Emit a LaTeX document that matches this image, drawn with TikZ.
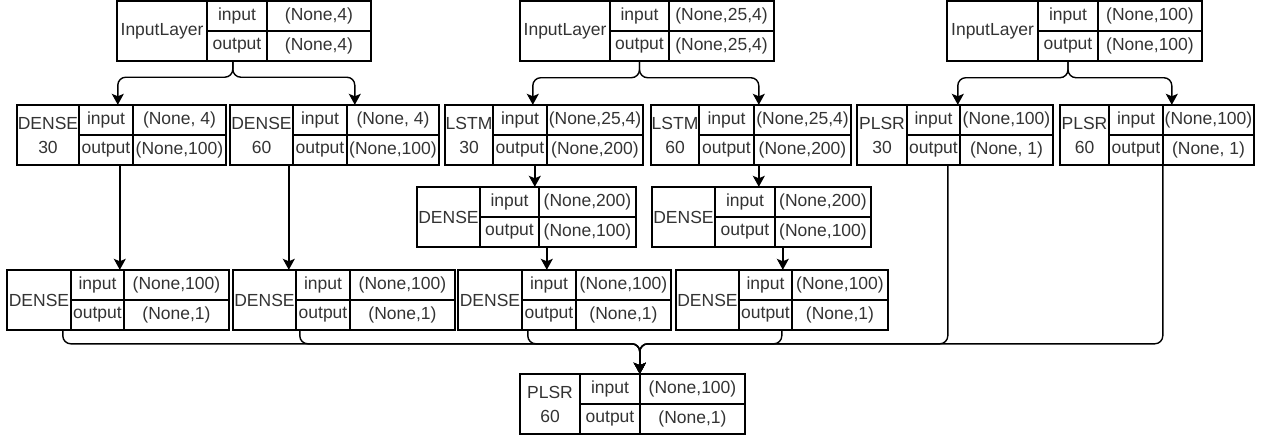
\documentclass[tikz,border=0pt]{standalone}
\usepackage{fontspec}
\setmainfont{Liberation Sans}
\usetikzlibrary{calc,arrows.meta}
\tikzset{
  cell/.style={draw=black, line width=1.4pt, inner sep=0pt, align=center,
    font=\fontsize{17.5}{24}\selectfont, text=black!80},
  arr/.style={draw=black, line width=1.4pt, -{Stealth[length=11pt,width=12pt,inset=2.5pt]}},
  link/.style={arr, rounded corners=8pt}
}
% #1 name, #2 x0, #3 c1, #4 c2, #5 x1, #6 y0, #7 label, #8 input value, #9 output value
\newcommand{\mktable}[9]{%
  \node[cell, minimum width={(#3-#2)*1pt}, minimum height=60pt] (#1-n) at ({(#2+#3)/2},{#6+30}) {#7};
  \node[cell, minimum width={(#4-#3)*1pt}, minimum height=30pt] (#1-il) at ({(#3+#4)/2},{#6+15}) {input};
  \node[cell, minimum width={(#5-#4)*1pt}, minimum height=30pt] (#1-iv) at ({(#4+#5)/2},{#6+15}) {#8};
  \node[cell, minimum width={(#4-#3)*1pt}, minimum height=30pt] (#1-ol) at ({(#3+#4)/2},{#6+45}) {output};
  \node[cell, minimum width={(#5-#4)*1pt}, minimum height=30pt] (#1-ov) at ({(#4+#5)/2},{#6+45}) {#9};
  \node[inner sep=0pt, minimum width={(#5-#2)*1pt}, minimum height=60pt] (#1) at ({(#2+#5)/2},{#6+30}) {};
}
\begin{document}
\begin{tikzpicture}[x=1pt,y=-1pt]
\useasboundingbox (0,0) rectangle (1266,437);
% top row
\mktable{A}{117}{207}{267}{371}{1}{InputLayer}{(None,4)}{(None,4)}
\mktable{B}{520}{610}{669}{774}{1}{InputLayer}{(None,25,4)}{(None,25,4)}
\mktable{C}{947}{1038}{1098}{1202}{1}{InputLayer}{(None,100)}{(None,100)}
% second row
\mktable{D30}{17}{79}{133}{226}{105}{DENSE\\30}{(None, 4)}{(None,100)}
\mktable{D60}{230}{293}{347}{439}{105}{DENSE\\60}{(None, 4)}{(None,100)}
\mktable{L30}{445}{493}{547}{643}{105}{LSTM\\30}{(None,25,4)}{(None,200)}
\mktable{L60}{651}{699}{754}{851}{105}{LSTM\\60}{(None,25,4)}{(None,200)}
\mktable{P30}{857}{907}{960}{1053}{105}{PLSR\\30}{(None,100)}{(None, 1)}
\mktable{P60}{1060}{1109}{1163}{1254}{105}{PLSR\\60}{(None,100)}{(None, 1)}
% third row
\mktable{M1}{417}{480}{539}{636}{187}{DENSE}{(None,200)}{(None,100)}
\mktable{M2}{652}{715}{775}{871}{187}{DENSE}{(None,200)}{(None,100)}
% fourth row
\mktable{T1}{7}{71}{124}{229}{270}{DENSE}{(None,100)}{(None,1)}
\mktable{T2}{233}{296}{350}{455}{270}{DENSE}{(None,100)}{(None,1)}
\mktable{T3}{458}{522}{576}{671}{270}{DENSE}{(None,100)}{(None,1)}
\mktable{T4}{676}{739}{792}{888}{270}{DENSE}{(None,100)}{(None,1)}
% final
\mktable{F}{520}{580}{640}{745}{374}{PLSR\\60}{(None,100)}{(None,1)}

% braces from the input layers
\draw[link] ($(A.south west)+(116,0)$) -- ++(0,16) -| ($(D30.north west)+(101,0)$);
\draw[link] ($(A.south west)+(116,0)$) -- ++(0,16) -| ($(D60.north west)+(125,0)$);
\draw[link] (B-ol.south) -- ++(0,16) -| ($(L30.north west)+(88,0)$);
\draw[link] (B-ol.south) -- ++(0,16) -| ($(L60.north west)+(108,0)$);
\draw[link] (C-ol.south) -- ++(0,16) -| ($(P30.north west)+(101,0)$);
\draw[link] (C-ol.south) -- ++(0,16) -| ($(P60.north west)+(112,0)$);

% straight links
\draw[arr] ($(D30.south west)+(103,0)$) coordinate (s1) -- (s1 |- T1.north);
\draw[arr] ($(D60.south west)+(59,0)$) coordinate (s2) -- (s2 |- T2.north);
\draw[arr] ($(L30.south west)+(90,0)$) coordinate (s3) -- (s3 |- M1.north);
\draw[arr] ($(L60.south west)+(108,0)$) coordinate (s4) -- (s4 |- M2.north);
\draw[arr] ($(M1.south west)+(130,0)$) coordinate (s5) -- (s5 |- T3.north);
\draw[arr] ($(M2.south west)+(131,0)$) coordinate (s6) -- (s6 |- T4.north);

% merge into the final PLSR
\coordinate (merge) at ($(F.north west)+(120,-30)$);
\coordinate (fin) at ($(F.north west)+(120,0)$);
\draw[link] ($(T1.south west)+(56,0)$) |- (merge) -- (fin);
\draw[link] ($(T2.south west)+(67,0)$) |- (merge) -- (fin);
\draw[link] ($(T3.south west)+(70,0)$) |- (merge) -- (fin);
\draw[link] ($(T4.south west)+(106,0)$) |- (merge) -- (fin);
\draw[link] ($(P30.south west)+(91,0)$) |- (merge) -- (fin);
\draw[link] ($(P60.south west)+(103,0)$) |- (merge) -- (fin);
\end{tikzpicture}
\end{document}
